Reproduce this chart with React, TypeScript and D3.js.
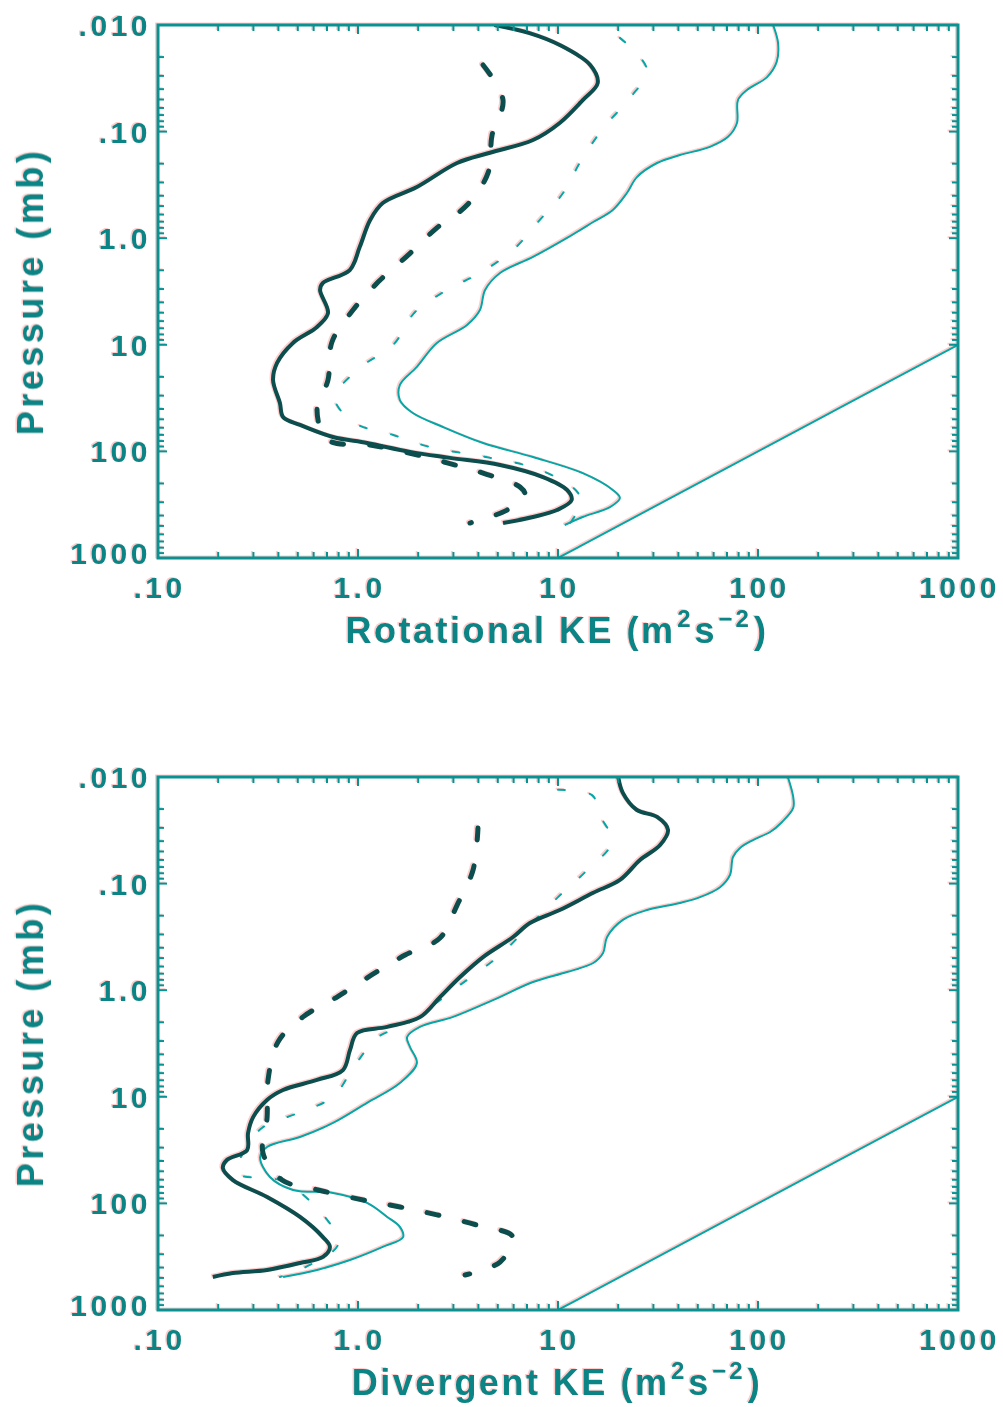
import React from "react";
import * as d3 from "d3";

type Pt = [number, number]; // [kinetic energy m^2 s^-2, pressure mb]

const xTickValues = [0.1, 1, 10, 100, 1000];
const xTickLabels = [".10", "1.0", "10", "100", "1000"];
const yTickValues = [0.01, 0.1, 1, 10, 100, 1000];
const yTickLabels = [".010", ".10", "1.0", "10", "100", "1000"];

// ---- Rotational KE panel ----
const rotThickSolid: Pt[] = [
  [4.8, 0.01], [7.2, 0.0119], [10.2, 0.0154], [14.5, 0.0237], [15.8, 0.035], [13.3, 0.0506],
  [10.2, 0.083], [7.5, 0.12], [4.57, 0.158], [3.13, 0.197], [1.97, 0.331], [1.33, 0.468],
  [1.15, 0.675], [1.02, 1.21], [0.91, 1.99], [0.668, 2.63], [0.646, 3.06], [0.708, 5.03],
  [0.624, 6.81], [0.473, 9.6], [0.394, 14.8], [0.376, 21.4], [0.407, 35.2], [0.422, 47.5],
  [0.513, 56.5], [0.75, 73.3], [1.11, 83.4], [1.82, 101], [2.88, 115], [5.13, 134],
  [8.41, 174], [11.1, 230], [11.7, 286], [9.89, 355], [7.5, 412], [5.31, 470],
];
const rotThickDash: Pt[] = [
  [4.22, 0.0237], [5.31, 0.0506], [4.68, 0.108], [4.47, 0.244], [3.51, 0.489], [2.48, 0.8],
  [1.78, 1.44], [1.26, 2.58], [0.944, 4.72], [0.741, 9.42], [0.708, 21.4], [0.624, 40.9],
  [0.708, 78.2], [1.15, 87.1], [1.82, 104], [2.79, 128], [4.22, 160], [6.46, 216],
  [6.84, 256], [5.56, 355], [3.63, 470],
];
const rotThinDash: Pt[] = [
  [20.4, 0.0132], [27.9, 0.0264], [22.9, 0.0484], [17, 0.0906], [13, 0.189], [10.6, 0.377],
  [7.94, 0.705], [5.96, 1.29], [4.07, 2.12], [2.79, 3.06], [1.93, 4.92], [1.5, 10],
  [1.02, 16.5], [0.767, 31.6], [0.966, 54.2], [1.5, 70.2], [2.29, 91], [4.57, 115],
  [8.13, 149], [12.6, 245], [12.8, 330], [11.5, 470],
];
const rotThinSolid: Pt[] = [
  [119, 0.01], [126, 0.0148], [124, 0.0222], [111, 0.0308], [88.1, 0.0407], [79.4, 0.0506],
  [78.5, 0.083], [70.8, 0.112], [57.5, 0.139], [40.7, 0.166], [31.3, 0.197], [24.8, 0.267],
  [22.1, 0.377], [18.8, 0.543], [15, 0.705], [11.1, 0.995], [7.5, 1.5], [5.13, 2.12],
  [4.32, 3.06], [4.07, 4.72], [3.51, 6.52], [2.48, 9.62], [1.97, 16.1], [1.62, 23.8],
  [1.62, 33], [1.88, 43.6], [2.66, 59], [4.22, 83.4], [7.5, 113], [13.3, 160],
  [18.8, 230], [20.4, 274], [18.2, 333], [13.3, 412], [10.8, 490],
];

// ---- Divergent KE panel ----
const divThickSolid: Pt[] = [
  [20, 0.01], [21.1, 0.0141], [24.8, 0.0204], [31.3, 0.0237], [35.5, 0.0314], [32.4, 0.0434],
  [25.7, 0.0601], [20.4, 0.0925], [15, 0.122], [10.2, 0.177], [7.24, 0.234], [5.96, 0.317],
  [4.22, 0.489], [3.24, 0.752], [2.57, 1.16], [2.04, 1.79], [1.4, 2.21], [0.989, 2.52],
  [0.912, 3.64], [0.841, 5.61], [0.624, 6.95], [0.422, 8.63], [0.351, 10.7], [0.299, 15.5],
  [0.282, 21.9], [0.279, 31.6], [0.221, 39.2], [0.211, 46.6], [0.237, 60.4], [0.351, 87.1],
  [0.513, 134], [0.668, 207], [0.724, 256], [0.668, 318], [0.513, 362], [0.351, 421],
  [0.237, 450], [0.188, 490],
];
const divThickDash: Pt[] = [
  [3.98, 0.0301], [3.76, 0.0745], [3.13, 0.159], [2.57, 0.324], [1.72, 0.468], [1.17, 0.72],
  [0.785, 1.16], [0.531, 1.78], [0.398, 3.06], [0.355, 6.95], [0.351, 15.8], [0.335, 33.7],
  [0.417, 60.3], [0.631, 74.8], [1.06, 92.9], [1.62, 108], [2.48, 128], [3.94, 160],
  [5.96, 207], [5.13, 355], [3.43, 470],
];
const divThinDash: Pt[] = [
  [10, 0.0132], [14.8, 0.0148], [16.2, 0.0228], [18.6, 0.0407], [14, 0.0745], [10, 0.134],
  [7.24, 0.244], [5.13, 0.468], [3.24, 0.893], [2.57, 1.24], [1.72, 2.12], [1.26, 2.75],
  [0.966, 5.04], [0.75, 10], [0.501, 14.2], [0.331, 19.6], [0.272, 31.6], [0.248, 51.9],
  [0.432, 63.1], [0.75, 170], [0.794, 245], [0.575, 378], [0.407, 490],
];
const divThinSolid: Pt[] = [
  [141, 0.01], [150, 0.0154], [150, 0.0195], [132, 0.0264], [115, 0.0328], [94.4, 0.039],
  [81.3, 0.0463], [75, 0.0563], [72.4, 0.083], [64.6, 0.108], [51.3, 0.134], [40.7, 0.152],
  [27.9, 0.177], [21.1, 0.219], [17.6, 0.317], [16.8, 0.448], [15, 0.556], [11.1, 0.675],
  [7.5, 0.838], [4.73, 1.24], [2.99, 1.78], [2.04, 2.21], [1.76, 2.75], [1.82, 3.41],
  [1.97, 4.82], [1.62, 7.43], [1.11, 11.4], [0.75, 17.6], [0.513, 23.8], [0.351, 29.6],
  [0.324, 36.7], [0.363, 56.5], [0.473, 74.8], [0.75, 79.8], [1.11, 99], [1.4, 134],
  [1.62, 166], [1.68, 207], [1.33, 256], [0.912, 340], [0.624, 421], [0.422, 490],
];

// reference slope line (KE ~ 1/p)
const refLine: Pt[] = [[10, 1000], [1000, 10]];

const X0 = 158;
const X1 = 958;

const TEAL_TEXT = "#0a8484";
const FRAME = "#089292";
const THICK = "#0c4e4e";
const THIN = "#04a6a6";
const GHOST = "#ff8c8c";

type Kind = "thickSolid" | "thickDash" | "thinDash" | "thinSolid";
const styles: Record<Kind, { color: string; width: number; dash?: string }> = {
  thickSolid: { color: THICK, width: 4 },
  thickDash: { color: THICK, width: 5, dash: "12 26" },
  thinDash: { color: THIN, width: 2, dash: "7 25" },
  thinSolid: { color: THIN, width: 2 },
};

const FONT = "'Liberation Sans', Arial, Helvetica, sans-serif";

function Panel(props: {
  top: number;
  bottom: number;
  title: string;
  series: { data: Pt[]; kind: Kind }[];
  ghost?: boolean;
  id: string;
}) {
  const { top, bottom, title, series, ghost, id } = props;
  const x = d3.scaleLog().domain([0.1, 1000]).range([X0, X1]);
  const y = d3.scaleLog().domain([0.01, 1000]).range([top, bottom]);
  const line = d3
    .line<Pt>()
    .x((d) => x(d[0]))
    .y((d) => y(d[1]))
    .curve(d3.curveCatmullRom.alpha(0.5));
  const straight = d3
    .line<Pt>()
    .x((d) => x(d[0]))
    .y((d) => y(d[1]));

  const frameC = ghost ? GHOST : FRAME;
  const textC = ghost ? GHOST : TEAL_TEXT;
  const xt = x.ticks();
  const yt = y.ticks();
  const isMajor = (v: number) => Math.abs(Math.log10(v) - Math.round(Math.log10(v))) < 1e-6;

  return (
    <g>
      <defs>
        <clipPath id={id}>
          <rect x={X0} y={top} width={X1 - X0} height={bottom - top} />
        </clipPath>
      </defs>
      <g clipPath={`url(#${id})`}>
        {series.map((s, i) => {
          const st = styles[s.kind];
          return (
            <path
              key={i}
              d={line(s.data) || ""}
              fill="none"
              stroke={ghost ? GHOST : st.color}
              strokeWidth={st.width}
              strokeDasharray={st.dash}
              strokeLinecap={st.dash ? "round" : "butt"}
              strokeLinejoin="round"
            />
          );
        })}
        <path d={straight(refLine) || ""} fill="none" stroke={ghost ? GHOST : THIN} strokeWidth={2} />
      </g>
      {/* ticks */}
      {xt.map((v, i) => {
        const L = isMajor(v) ? 9 : 6;
        const px = x(v);
        return (
          <g key={"xt" + i} stroke={frameC} strokeWidth={2}>
            <line x1={px} x2={px} y1={bottom} y2={bottom - L} />
            <line x1={px} x2={px} y1={top} y2={top + L} />
          </g>
        );
      })}
      {yt.map((v, i) => {
        const L = isMajor(v) ? 9 : 6;
        const py = y(v);
        return (
          <g key={"yt" + i} stroke={frameC} strokeWidth={2}>
            <line x1={X0} x2={X0 + L} y1={py} y2={py} />
            <line x1={X1} x2={X1 - L} y1={py} y2={py} />
          </g>
        );
      })}
      <rect x={X0} y={top} width={X1 - X0} height={bottom - top} fill="none" stroke={frameC} strokeWidth={3} />
      {/* tick labels */}
      {xTickValues.map((v, i) => (
        <text
          key={"xl" + i}
          x={x(v) + 1.5}
          y={bottom + 40}
          textAnchor="middle"
          fontFamily={FONT}
          fontWeight="bold"
          fontSize={30}
          letterSpacing={3.5}
          fill={textC}
        >
          {xTickLabels[i]}
        </text>
      ))}
      {yTickValues.map((v, i) => (
        <text
          key={"yl" + i}
          x={151}
          y={y(v) + (i === yTickValues.length - 1 ? 6 : 11)}
          textAnchor="end"
          fontFamily={FONT}
          fontWeight="bold"
          fontSize={30}
          letterSpacing={3.5}
          fill={textC}
        >
          {yTickLabels[i]}
        </text>
      ))}
      {/* axis titles */}
      <text
        x={557}
        y={bottom + 85}
        textAnchor="middle"
        fontFamily={FONT}
        fontWeight="bold"
        fontSize={36}
        letterSpacing={2.5}
        fill={textC}
      >
        {title + " KE ("}
        <tspan letterSpacing={4}>m</tspan>
        <tspan fontSize={24} dy={-16} letterSpacing={4}>2</tspan>
        <tspan dy={16} letterSpacing={4}>s</tspan>
        <tspan fontSize={24} dy={-16} letterSpacing={3}>−2</tspan>
        <tspan dy={16} dx={2}>)</tspan>
      </text>
      <text
        transform={`translate(43,${(top + bottom) / 2}) rotate(-90)`}
        textAnchor="middle"
        fontFamily={FONT}
        fontWeight="bold"
        fontSize={36}
        letterSpacing={3.5}
        fill={textC}
      >
        Pressure (mb)
      </text>
    </g>
  );
}

export default function App() {
  const rotSeries = [
    { data: rotThinSolid, kind: "thinSolid" as Kind },
    { data: rotThinDash, kind: "thinDash" as Kind },
    { data: rotThickDash, kind: "thickDash" as Kind },
    { data: rotThickSolid, kind: "thickSolid" as Kind },
  ];
  const divSeries = [
    { data: divThinSolid, kind: "thinSolid" as Kind },
    { data: divThinDash, kind: "thinDash" as Kind },
    { data: divThickDash, kind: "thickDash" as Kind },
    { data: divThickSolid, kind: "thickSolid" as Kind },
  ];
  return (
    <svg
      width={1003}
      height={1407}
      style={{ position: "absolute", left: 0, top: 0, background: "#ffffff" }}
    >
      <rect x={0} y={0} width={1003} height={1407} fill="#ffffff" />
      <g transform="translate(-1.5,-1)" opacity={0.45}>
        <Panel id="cg1" top={25} bottom={558} title="Rotational" series={rotSeries} ghost />
        <Panel id="cg2" top={777} bottom={1310} title="Divergent" series={divSeries} ghost />
      </g>
      <Panel id="c1" top={25} bottom={558} title="Rotational" series={rotSeries} />
      <Panel id="c2" top={777} bottom={1310} title="Divergent" series={divSeries} />
    </svg>
  );
}
